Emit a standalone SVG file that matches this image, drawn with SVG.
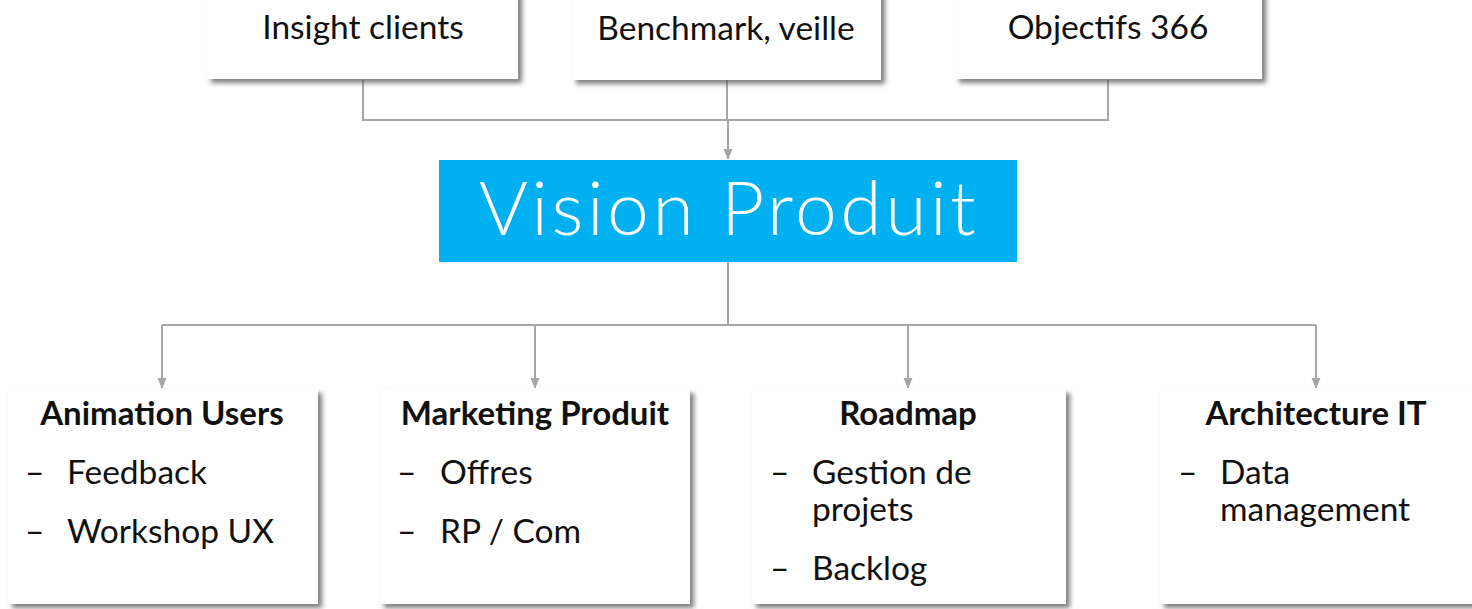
<svg xmlns="http://www.w3.org/2000/svg" width="1472" height="609" viewBox="0 0 1472 609">
<style>
.box{fill:#ffffff;filter:url(#sh)}
.t{font-family:Lato,"Open Sans","Liberation Sans",sans-serif;fill:#111111;font-size:33.5px}
.h{font-family:Lato,"Open Sans","Liberation Sans",sans-serif;fill:#111111;font-size:33px;font-weight:bold;text-anchor:middle}
.c{text-anchor:middle}
.ln{fill:none;stroke:#a6a6a6;stroke-width:2}
</style>
<defs>
<filter id="sh" x="-10%" y="-10%" width="125%" height="130%">
<feDropShadow dx="4" dy="4" stdDeviation="2.5" flood-color="#555555" flood-opacity="0.75"/>
</filter>
<marker id="ar" markerWidth="10" markerHeight="12" refX="10" refY="5" orient="auto" markerUnits="userSpaceOnUse">
<path d="M0,0.5 L11,5 L0,9.5 Z" fill="#a6a6a6"/>
</marker>
</defs>
<rect width="1472" height="609" fill="#ffffff"/>

<g id="connectors">
<path class="ln" d="M363 80 V120 H1108 V80"/>
<path class="ln" d="M727 80 V120" stroke="#cfcfcf"/>
<path class="ln" d="M728 120 V159" marker-end="url(#ar)"/>
<path class="ln" d="M728 262 V325"/>
<path class="ln" d="M162 325 H1316"/>
<path class="ln" d="M162 325 V388" marker-end="url(#ar)"/>
<path class="ln" d="M535 325 V388" marker-end="url(#ar)"/>
<path class="ln" d="M908 325 V388" marker-end="url(#ar)"/>
<path class="ln" d="M1316 325 V388" marker-end="url(#ar)"/>
</g>

<g id="insight">
<rect class="box" x="207" y="-10" width="311" height="89"/>
<text class="t c" x="363" y="39">Insight clients</text>
</g>
<g id="benchmark">
<rect class="box" x="572" y="-10" width="309" height="90"/>
<text class="t c" x="726" y="40">Benchmark, veille</text>
</g>
<g id="objectifs">
<rect class="box" x="955" y="-10" width="307" height="89"/>
<text class="t c" x="1108" y="39">Objectifs 366</text>
</g>

<g id="vision">
<rect x="439" y="160" width="578" height="102" fill="#00b0f0"/>
<text x="729" y="235" text-anchor="middle" font-family="Lato,'Open Sans','Liberation Sans',sans-serif" font-weight="300" font-size="75" fill="#ffffff" letter-spacing="3.5">Vision Produit</text>
</g>

<g id="animation">
<rect class="box" x="8" y="389" width="310" height="215"/>
<text class="h" x="162" y="425">Animation Users</text>
<text class="t" x="25" y="484">–</text><text class="t" x="67" y="484">Feedback</text>
<text class="t" x="25" y="543">–</text><text class="t" x="67" y="543">Workshop UX</text>
</g>

<g id="marketing">
<rect class="box" x="380" y="389" width="310" height="215"/>
<text class="h" x="535" y="425">Marketing Produit</text>
<text class="t" x="397" y="484">–</text><text class="t" x="440" y="484">Offres</text>
<text class="t" x="397" y="543">–</text><text class="t" x="440" y="543">RP / Com</text>
</g>

<g id="roadmap">
<rect class="box" x="752" y="389" width="314" height="215"/>
<text class="h" x="908" y="425">Roadmap</text>
<text class="t" x="770" y="484">–</text><text class="t" x="812" y="484">Gestion de</text>
<text class="t" x="812" y="521">projets</text>
<text class="t" x="770" y="580">–</text><text class="t" x="812" y="580">Backlog</text>
</g>

<g id="architecture">
<rect class="box" x="1160" y="389" width="320" height="215"/>
<text class="h" x="1316" y="425">Architecture IT</text>
<text class="t" x="1178" y="484">–</text><text class="t" x="1220" y="484">Data</text>
<text class="t" x="1220" y="521">management</text>
</g>
</svg>
